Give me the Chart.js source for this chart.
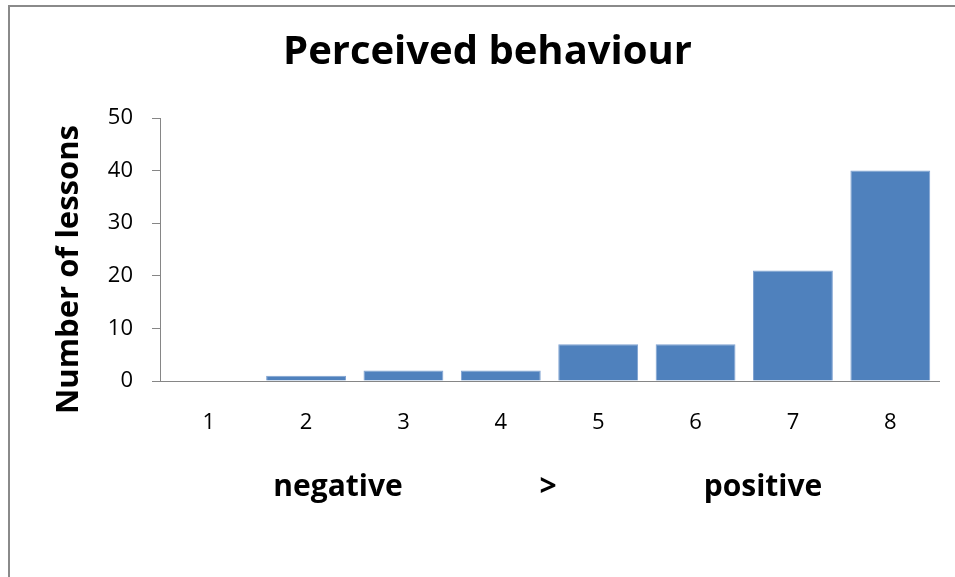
<!DOCTYPE html>
<html>
<head>
<meta charset="utf-8">
<script src="https://cdn.jsdelivr.net/npm/chart.js@4/dist/chart.umd.min.js"></script>
<style>
  html, body { margin: 0; padding: 0; background: #fff; overflow: hidden; }
  #wrap { position: relative; width: 955px; height: 577px; }
  #frame { position: absolute; left: 8px; top: 5px; width: 1000px; height: 700px; border: 2px solid #8a8a8a; box-sizing: border-box; }
  canvas { position: absolute; left: 0; top: 0; }
</style>
</head>
<body>
<div id="wrap">
  <div id="frame"></div>
  <canvas id="chart" width="955" height="577"></canvas>
</div>
<script>
const categories = ['1', '2', '3', '4', '5', '6', '7', '8'];
const lessons = [0, 1, 2, 2, 7, 7, 21, 40];
const yTicks = [0, 10, 20, 30, 40, 50];

const chartTitle = 'Perceived behaviour';
const yTitle = 'Number of lessons';
const scaleNotes = ['negative', '>', 'positive'];

const FONT = '"Open Sans", Lato, sans-serif';

// extra text: rotated y title and the negative > positive line under the axis
const notesPlugin = {
  id: 'notes',
  afterDraw(chart) {
    const { ctx, chartArea } = chart;
    ctx.save();
    ctx.fillStyle = '#000';
    ctx.font = 'bold 31px ' + FONT;
    ctx.textAlign = 'center';
    ctx.textBaseline = 'middle';
    ctx.translate(chartArea.left - 91, (chartArea.top + chartArea.bottom) / 2 + 20);
    ctx.rotate(-Math.PI / 2);
    ctx.fillText(yTitle, 0, 0);
    ctx.restore();

    ctx.save();
    ctx.fillStyle = '#000';
    ctx.font = 'bold 30px ' + FONT;
    ctx.textAlign = 'center';
    ctx.textBaseline = 'alphabetic';
    const xs = [338, 548, 763];
    scaleNotes.forEach((t, i) => ctx.fillText(t, xs[i], chartArea.bottom + 115));
    ctx.restore();
  }
};

new Chart(document.getElementById('chart'), {
  type: 'bar',
  data: {
    labels: categories,
    datasets: [{
      label: 'Lessons',
      data: lessons,
      backgroundColor: '#4f81bd',
      borderColor: '#7fa2d1',
      borderWidth: 1,
      barPercentage: 0.82,
      categoryPercentage: 1
    }]
  },
  options: {
    responsive: false,
    animation: false,
    layout: { padding: { top: 20, left: 36, right: 16, bottom: 0 } },
    plugins: {
      legend: { display: false },
      tooltip: { enabled: false },
      title: {
        display: true,
        text: chartTitle,
        color: '#000',
        font: { family: FONT, size: 40, weight: 'bold' },
        padding: { top: 8.5, bottom: 41.5 }
      }
    },
    scales: {
      x: {
        afterFit: (s) => { s.height = 196; },
        grid: { display: false, drawTicks: false },
        border: { display: true, color: '#868686', width: 1 },
        ticks: { color: '#000', font: { family: FONT, size: 22 }, padding: 29 }
      },
      y: {
        min: 0,
        max: 50,
        afterFit: (s) => { s.width = 124; },
        afterBuildTicks: (s) => { s.ticks = yTicks.map(v => ({ value: v })); },
        grid: { drawOnChartArea: false, drawTicks: true, tickLength: 8, color: '#868686' },
        border: { display: true, color: '#868686', width: 1 },
        ticks: { color: '#000', font: { family: FONT, size: 22 }, padding: 19 }
      }
    }
  },
  plugins: [notesPlugin]
});
</script>
</body>
</html>
